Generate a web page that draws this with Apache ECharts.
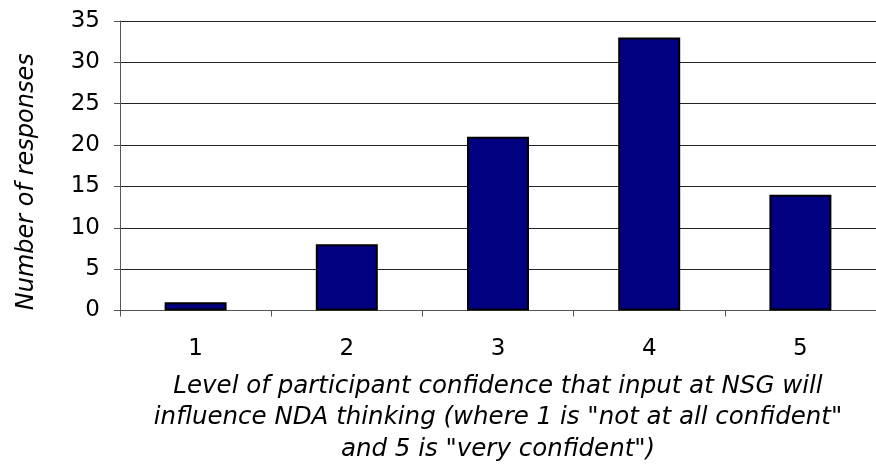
<!DOCTYPE html>
<html>
<head>
<meta charset="utf-8">
<script src="https://cdn.jsdelivr.net/npm/echarts@6/dist/echarts.min.js"></script>
<style>
    html, body { margin: 0; padding: 0; background: #fff; }
    #chart { width: 876px; height: 470px; }
</style>
</head>
<body>
<div id="chart"></div>
<script>
    var levels = ['1', '2', '3', '4', '5'];
    var responses = [1, 8, 21, 33, 14];
    var yTicks = { min: 0, max: 35, interval: 5 };

    var xName = 'Level of participant confidence that input at NSG will\ninfluence NDA thinking (where 1 is "not at all confident"\nand 5 is "very confident")';
    var yName = 'Number of responses';

    var myChart = echarts.init(document.getElementById('chart'));

    myChart.setOption({
        animation: false,
        textStyle: { fontFamily: 'DejaVu Sans', color: '#000' },
        grid: {
            left: 120,
            top: 21,
            width: 765,
            height: 290,
            containLabel: false
        },
        xAxis: {
            type: 'category',
            data: levels,
            name: xName,
            nameLocation: 'middle',
            nameGap: 60,
            nameTextStyle: {
                fontFamily: 'DejaVu Sans',
                fontStyle: 'italic',
                fontSize: 24.5,
                lineHeight: 31.5,
                color: '#000',
                align: 'center'
            },
            axisLine: { lineStyle: { color: '#555', width: 1 } },
            axisTick: { show: true, length: 6, lineStyle: { color: '#555' } },
            axisLabel: { fontSize: 23, color: '#000', margin: 27 },
            splitLine: { show: false }
        },
        yAxis: {
            type: 'value',
            min: yTicks.min,
            max: yTicks.max,
            interval: yTicks.interval,
            name: yName,
            nameLocation: 'middle',
            nameGap: 81,
            nameTextStyle: {
                fontFamily: 'DejaVu Sans',
                fontStyle: 'italic',
                fontSize: 24,
                color: '#000',
                padding: [0, 32, 0, 0]
            },
            axisLine: { show: true, lineStyle: { color: '#555', width: 1 } },
            axisTick: { show: true, length: 6, lineStyle: { color: '#555' } },
            axisLabel: { fontSize: 23, color: '#000', margin: 20 },
            splitLine: { show: true, lineStyle: { color: '#222', width: 1 } }
        },
        series: [
            {
                type: 'bar',
                data: responses,
                barWidth: '41%',
                itemStyle: {
                    color: '#000080',
                    borderColor: '#000',
                    borderWidth: 2
                }
            }
        ]
    });
</script>
</body>
</html>
